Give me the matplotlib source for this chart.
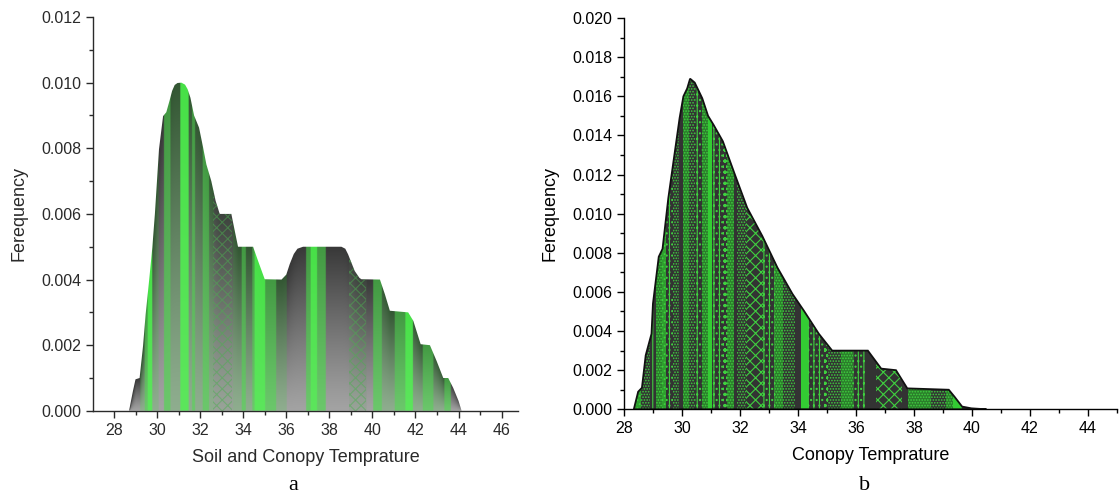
import numpy as np
import matplotlib
matplotlib.use("Agg")
import matplotlib.pyplot as plt
from matplotlib.patches import Polygon
from matplotlib.ticker import MultipleLocator, FormatStrFormatter

plt.rcParams["font.family"] = ["Liberation Sans", "DejaVu Sans"]

# ---- DATA: outline of the frequency curves ----
soil_temp = [28.70, 28.88, 29.00, 29.19, 29.35, 29.47, 29.63, 29.78, 29.90, 30.09,
             30.28, 30.43, 30.58, 30.70, 30.82, 30.95, 31.13, 31.30, 31.42, 31.55, 31.72,
             31.95, 32.14, 32.29, 32.52, 32.72, 32.91, 33.45, 33.61, 33.76, 34.46,
             34.69, 35.00, 35.78, 36.00, 36.16, 36.35, 36.52, 36.78, 38.56, 38.74, 38.87, 39.18, 39.40, 39.49,
             40.35, 40.58, 40.81, 41.66, 41.90, 42.24, 42.67, 42.98, 43.29, 43.52,
             43.75, 44.00, 44.14]
soil_freq = [0.0, 0.0006, 0.00096, 0.001, 0.00198, 0.00294, 0.00396, 0.00497, 0.0060, 0.00797,
             0.00898, 0.0091, 0.00945, 0.00975, 0.00993, 0.00999, 0.01000, 0.00994, 0.00980, 0.00954, 0.0090,
             0.00863, 0.00802, 0.00751, 0.0070, 0.0064, 0.0060, 0.0060, 0.00548, 0.00500, 0.0050,
             0.00457, 0.00401, 0.0040, 0.00415, 0.00447, 0.00478, 0.00494, 0.0050, 0.0050, 0.00494, 0.00477, 0.00426, 0.00405, 0.00401,
             0.0040, 0.00355, 0.00305, 0.0030, 0.00274, 0.00203, 0.0020, 0.00152, 0.0010, 0.0010,
             0.0007, 0.0003, 0.0]

canopy_temp = [28.34, 28.49, 28.62, 28.75, 28.95, 29.00, 29.20, 29.33, 29.53, 29.72,
               29.92, 30.05, 30.18, 30.28, 30.44, 30.70, 30.90, 31.09, 31.41, 31.80,
               32.25, 32.77, 33.29, 33.81, 34.20, 34.72, 35.18, 36.41, 36.87, 37.38,
               37.77, 39.20, 39.40, 39.66, 39.98, 40.50]
canopy_freq = [0.0, 0.0009, 0.0011, 0.00276, 0.00386, 0.0054, 0.0078, 0.0082, 0.0108, 0.0128,
               0.0149, 0.0160, 0.0164, 0.0169, 0.0167, 0.0159, 0.0150, 0.01454, 0.0137, 0.0121,
               0.0103, 0.00886, 0.00725, 0.0059, 0.00505, 0.00386, 0.0030, 0.0030, 0.00208, 0.0020,
               0.00107, 0.0010, 0.00064, 0.00014, 0.00005, 0.0]

# ---- STRIP FILL STYLES ----
soil_strips = [(28.6, 29.2, "gray"), (29.2, 29.4, "dkgreen"), (29.4, 29.55, "green"),
               (29.55, 29.75, "bright"), (29.75, 30.05, "dkgreen"), (30.05, 30.3, "gray"),
               (30.3, 30.6, "green"), (30.6, 31.05, "dkgreen"), (31.05, 31.45, "bright"),
               (31.45, 31.6, "dkgreen"), (31.6, 31.75, "green"), (31.75, 32.1, "dkgreen"),
               (32.1, 32.4, "green"), (32.4, 32.6, "dkgreen"), (32.6, 33.5, "xgray"),
               (33.5, 33.9, "dkgreen"), (33.9, 34.1, "green"), (34.1, 34.4, "dkgreen"),
               (34.4, 34.5, "green"), (34.5, 35.0, "bright"), (35.0, 35.5, "green"),
               (35.5, 36.0, "dkgreen"), (36.0, 36.9, "gray"), (36.9, 37.1, "green"),
               (37.1, 37.4, "bright"), (37.4, 37.8, "green"), (37.8, 38.9, "gray"),
               (38.9, 39.7, "xgray"), (39.7, 40.0, "gray"), (40.0, 40.4, "green"),
               (40.4, 41.0, "dkgreen"), (41.0, 41.5, "green"), (41.5, 41.85, "bright"),
               (41.85, 42.3, "dkgreen"), (42.3, 42.8, "green"), (42.8, 43.3, "dkgreen"),
               (43.3, 43.6, "green"), (43.6, 44.3, "gray")]

soil_colors = {
    "gray": ((0.22, 0.22, 0.22), (0.64, 0.64, 0.64)),
    "xgray": ((0.24, 0.26, 0.24), (0.60, 0.64, 0.60)),
    "dkgreen": ((0.20, 0.34, 0.20), (0.56, 0.68, 0.56)),
    "green": ((0.26, 0.60, 0.26), (0.42, 0.78, 0.42)),
    "bright": ((0.28, 0.88, 0.28), (0.36, 0.90, 0.36)),
}

canopy_strips = [(28.3, 28.6, "g1"), (28.6, 28.9, "dots"), (28.9, 29.1, "vlines"),
                 (29.1, 29.3, "gdots"), (29.3, 29.45, "g1"), (29.45, 29.7, "dash"),
                 (29.7, 29.9, "dots"), (29.9, 30.05, "dark"), (30.05, 30.25, "gdots"),
                 (30.25, 30.45, "dots"), (30.45, 30.7, "dash"), (30.7, 30.9, "gdots"),
                 (30.9, 31.05, "bright"), (31.05, 31.4, "dash"), (31.4, 31.55, "bigdots"),
                 (31.55, 31.8, "gdots"), (31.8, 31.9, "dark"), (31.9, 32.2, "dots"),
                 (32.2, 32.8, "chev"), (32.8, 33.2, "dash"), (33.2, 33.5, "gdots"),
                 (33.5, 33.9, "dots"), (33.9, 34.1, "dark"), (34.1, 34.35, "bright"),
                 (34.35, 34.9, "dash"), (34.9, 35.05, "bigdots"), (35.05, 35.5, "dots"),
                 (35.5, 35.9, "gdots"), (35.9, 36.3, "dash"), (36.3, 36.7, "dark"),
                 (36.7, 37.6, "chev"), (37.6, 37.8, "dark"), (37.8, 38.6, "gdots"),
                 (38.6, 39.1, "dots"), (39.1, 39.35, "gdots"), (39.35, 39.65, "bright"),
                 (39.65, 40.6, "dark")]

DARK = "#333333"
canopy_styles = {
    "dark": dict(facecolor=DARK, hatch=None),
    "g1": dict(facecolor="#2e9e2e", hatch="...."),
    "gdots": dict(facecolor="#2b7d2b", hatch="......"),
    "bright": dict(facecolor="#33cc33", hatch=None),
    "dots": dict(facecolor=DARK, hatch="......"),
    "bigdots": dict(facecolor=DARK, hatch="ooo"),
    "vlines": dict(facecolor=DARK, hatch="|||"),
    "dash": dict(facecolor=DARK, hatch="|||..."),
    "chev": dict(facecolor=DARK, hatch="xxx"),
}

plt.rcParams["hatch.linewidth"] = 0.8

fig = plt.figure(figsize=(11.2, 5.01), dpi=100)
ax1 = fig.add_axes([0.0833, 0.180, 0.3792, 0.786])
ax2 = fig.add_axes([0.5571, 0.183, 0.4402, 0.781])


def style_axes(ax, color):
    for side in ("top", "right"):
        ax.spines[side].set_visible(False)
    for side in ("left", "bottom"):
        ax.spines[side].set_color(color)
        ax.spines[side].set_linewidth(1.0)
    ax.tick_params(which="major", direction="out", length=5, width=1.0,
                   colors=color, labelsize=11.5, labelcolor=color)
    ax.tick_params(which="minor", direction="out", length=3, width=1.0, colors=color)
    ax.xaxis.set_major_locator(MultipleLocator(2))
    ax.xaxis.set_minor_locator(MultipleLocator(1))
    ax.yaxis.set_major_formatter(FormatStrFormatter("%.3f"))


# ---- (a) soil and canopy temperature ----
text_a = "#2a2a2a"
ax1.set_xlim(27.04, 46.76)
ax1.set_ylim(0, 0.012)
style_axes(ax1, text_a)
ax1.yaxis.set_major_locator(MultipleLocator(0.002))
ax1.yaxis.set_minor_locator(MultipleLocator(0.001))

outline1 = Polygon(np.column_stack([soil_temp, soil_freq]), closed=True,
                   facecolor="none", edgecolor="none", transform=ax1.transData)
ax1.add_patch(outline1)

# vertical shading in each strip: dark at the curve, light at the baseline
nx, ny = 900, 500
gx = np.linspace(28.5, 44.3, nx)
gy = np.linspace(0, 0.0102, ny)
top = np.interp(gx, soil_temp, soil_freq)
frac = np.clip(gy[:, None] / np.maximum(top[None, :], 1e-6), 0, 1)
img = np.zeros((ny, nx, 3))
for x0, x1, kind in soil_strips:
    sel = (gx >= x0) & (gx < x1)
    c_top, c_bot = (np.array(c) for c in soil_colors[kind])
    img[:, sel, :] = (c_bot[None, None, :] +
                      (c_top - c_bot)[None, None, :] * frac[:, sel, None] ** 1.15)
im = ax1.imshow(img, origin="lower", aspect="auto", interpolation="bilinear",
                extent=(gx[0], gx[-1], gy[0], gy[-1]), zorder=1)
im.set_clip_path(outline1)

for x0, x1, kind in soil_strips:
    if kind == "xgray":
        p = ax1.axvspan(x0, x1, facecolor="none", edgecolor="#4caf50",
                        hatch="xxx", linewidth=0, alpha=0.5, zorder=2)
        p.set_clip_path(outline1)

ax1.set_xlabel("Soil and Conopy Temprature", fontsize=13, color=text_a, labelpad=8)
ax1.set_ylabel("Ferequency", fontsize=13, color=text_a, labelpad=10)

# ---- (b) canopy temperature ----
ax2.set_xlim(28, 45)
ax2.set_ylim(0, 0.020)
style_axes(ax2, "black")
ax2.yaxis.set_major_locator(MultipleLocator(0.002))
ax2.yaxis.set_minor_locator(MultipleLocator(0.001))

outline2 = Polygon(np.column_stack([canopy_temp, canopy_freq]), closed=True,
                   facecolor="none", edgecolor="#111111", linewidth=1.3,
                   transform=ax2.transData, zorder=4)
ax2.add_patch(outline2)

for x0, x1, kind in canopy_strips:
    st = canopy_styles[kind]
    p = ax2.axvspan(x0, x1, facecolor=st["facecolor"], hatch=st["hatch"],
                    edgecolor="#3fcf3f", linewidth=0, zorder=2)
    p.set_clip_path(outline2)

ax2.set_xlabel("Conopy Temprature", fontsize=13, labelpad=8)
ax2.set_ylabel("Ferequency", fontsize=13, labelpad=10)

# ---- panel letters ----
fig.text(0.2616, 0.022, "a", family="Liberation Serif", fontsize=16, ha="center")
fig.text(0.7723, 0.022, "b", family="Liberation Serif", fontsize=16, ha="center")

fig.savefig("out.png", dpi=100)
